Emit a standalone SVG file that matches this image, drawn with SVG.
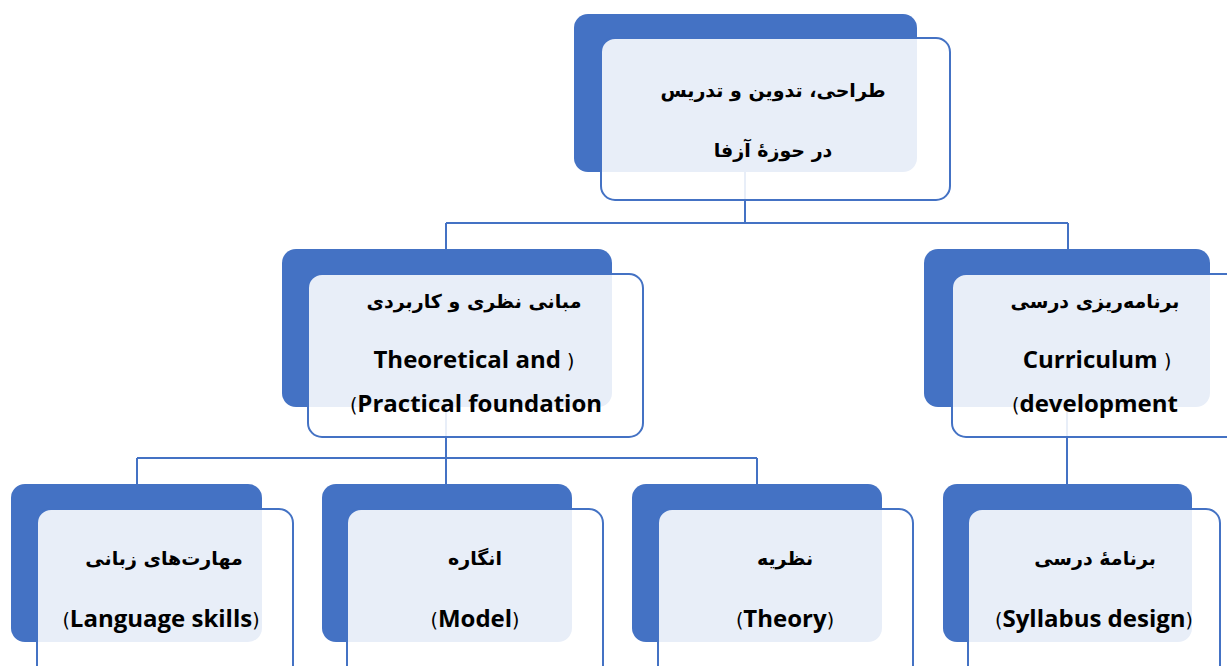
<svg xmlns="http://www.w3.org/2000/svg" width="1227" height="666" viewBox="0 0 1227 666">
<style>
.back{fill:#4472C4;}
.front{fill:#ffffff;fill-opacity:0.88;stroke:#4472C4;stroke-width:2;}
.conn{fill:none;stroke:#4472C4;stroke-width:2;}
.fa{font-family:"DejaVu Sans","Noto Sans",sans-serif;font-weight:bold;font-size:19px;fill:#000;text-anchor:middle;}
.en{font-family:"Open Sans",Lato,sans-serif;font-weight:bold;font-size:24px;fill:#000;text-anchor:middle;}
.p{font-family:"DejaVu Sans",sans-serif;font-weight:normal;font-size:19px;}
</style>
<rect width="1227" height="666" fill="#ffffff"/>
<g id="connectors">
<path class="conn" d="M745,172 V223 M446,223 H1068 M446,223 V250 M1068,223 V250"/>
<path class="conn" d="M446,407 V458 M137,458 H757 M137,458 V485 M446,458 V485 M757,458 V485"/>
<path class="conn" d="M1067,407 V485"/>
</g>
<g id="node-root">
<rect class="back" x="574" y="14" width="343" height="158" rx="14"/>
<rect class="front" x="601" y="38" width="349" height="162" rx="14"/>
<text class="fa" x="773" y="97" direction="rtl">طراحی، تدوین و تدریس</text>
<text class="fa" x="773" y="157" direction="rtl">در حوزهٔ آزفا</text>
</g>
<g id="node-foundation">
<rect class="back" x="282" y="249" width="330" height="158" rx="14"/>
<rect class="front" x="308" y="274" width="335" height="163" rx="14"/>
<text class="fa" x="474" y="308" direction="rtl">مبانی نظری و کاربردی</text>
<text class="en" x="474" y="368">Theoretical and <tspan class="p">)</tspan></text>
<text class="en" x="476" y="412"><tspan class="p">(</tspan>Practical foundation</text>
</g>
<g id="node-curriculum">
<rect class="back" x="924" y="249" width="286" height="158" rx="14"/>
<rect class="front" x="952" y="274" width="300" height="163" rx="14"/>
<text class="fa" x="1095" y="308" direction="rtl">برنامه‌ریزی درسی</text>
<text class="en" x="1097" y="368">Curriculum <tspan class="p">)</tspan></text>
<text class="en" x="1095" y="412"><tspan class="p">(</tspan>development</text>
</g>
<g id="node-skills">
<rect class="back" x="11" y="484" width="251" height="158" rx="14"/>
<rect class="front" x="37" y="509" width="256" height="170" rx="14"/>
<text class="fa" x="164" y="565" direction="rtl">مهارت‌های زبانی</text>
<text class="en" x="161" y="627"><tspan class="p">(</tspan>Language skills<tspan class="p">)</tspan></text>
</g>
<g id="node-model">
<rect class="back" x="322" y="484" width="250" height="158" rx="14"/>
<rect class="front" x="347" y="509" width="256" height="170" rx="14"/>
<text class="fa" x="475" y="565" direction="rtl">انگاره</text>
<text class="en" x="475" y="627"><tspan class="p">(</tspan>Model<tspan class="p">)</tspan></text>
</g>
<g id="node-theory">
<rect class="back" x="632" y="484" width="250" height="158" rx="14"/>
<rect class="front" x="658" y="509" width="255" height="170" rx="14"/>
<text class="fa" x="785" y="565" direction="rtl">نظریه</text>
<text class="en" x="785" y="627"><tspan class="p">(</tspan>Theory<tspan class="p">)</tspan></text>
</g>
<g id="node-syllabus">
<rect class="back" x="943" y="484" width="249" height="158" rx="14"/>
<rect class="front" x="968" y="509" width="252" height="170" rx="14"/>
<text class="fa" x="1095" y="565" direction="rtl">برنامهٔ درسی</text>
<text class="en" x="1094" y="627"><tspan class="p">(</tspan>Syllabus design<tspan class="p">)</tspan></text>
</g>
</svg>
